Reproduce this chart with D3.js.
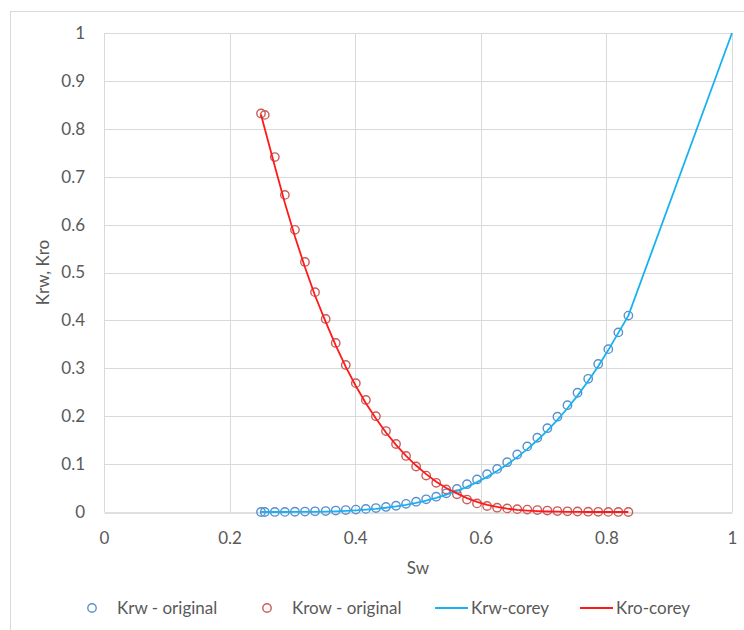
<!DOCTYPE html>
<html>
<head>
<meta charset="utf-8">
<script src="https://cdn.jsdelivr.net/npm/d3@7"></script>
<style>
  body { margin: 0; background: #fff; }
  text { font-family: Lato, "Open Sans", sans-serif; fill: #595959; }
</style>
</head>
<body>
<svg id="chart" width="744" height="630"></svg>
<script>
// water saturation of the measured points
var sw = [0.250, 0.256, 0.272, 0.288, 0.304, 0.320, 0.336, 0.353, 0.369, 0.385,
          0.401, 0.417, 0.433, 0.449, 0.465, 0.481, 0.497, 0.513, 0.529, 0.545,
          0.562, 0.578, 0.594, 0.610, 0.626, 0.642, 0.658, 0.674, 0.690, 0.706,
          0.722, 0.738, 0.754, 0.771, 0.787, 0.803, 0.819, 0.835];
var krwOriginal = [0, 0, 0.0001, 0.0002, 0.0005, 0.0009, 0.0014, 0.002, 0.003, 0.004,
                   0.005, 0.0065, 0.0082, 0.0105, 0.013, 0.017, 0.0215, 0.0265, 0.032, 0.039,
                   0.048, 0.058, 0.068, 0.079, 0.090, 0.104, 0.120, 0.137, 0.155, 0.175,
                   0.199, 0.223, 0.249, 0.278, 0.309, 0.340, 0.375, 0.410];
var krowOriginal = [0.832, 0.829, 0.741, 0.662, 0.589, 0.522, 0.459, 0.403, 0.353, 0.307,
                    0.269, 0.234, 0.200, 0.169, 0.142, 0.117, 0.095, 0.076, 0.061, 0.047,
                    0.037, 0.026, 0.018, 0.0125, 0.009, 0.0075, 0.006, 0.005, 0.004, 0.003,
                    0.002, 0.0015, 0.001, 0.0007, 0.0004, 0.0002, 0.0001, 0];
// corey curves
var swKrwCorey = sw.concat([1.0]);
var krwCorey = [0, 0, 0, 0.00002, 0.00009, 0.0002, 0.00045, 0.00085, 0.0014, 0.0022,
                0.0033, 0.0048, 0.0066, 0.0089, 0.0117, 0.0151, 0.0192, 0.024, 0.0296, 0.0361,
                0.0441, 0.0526, 0.0623, 0.0733, 0.0856, 0.0993, 0.1145, 0.1312, 0.1498, 0.1701,
                0.1923, 0.2166, 0.2429, 0.2734, 0.3045, 0.338, 0.374, 0.410, 1.0];
var kroCorey = [0.830, 0.800, 0.722, 0.645, 0.575, 0.511, 0.452, 0.397, 0.348, 0.303,
                0.263, 0.227, 0.195, 0.166, 0.140, 0.117, 0.097, 0.079, 0.063, 0.050,
                0.039, 0.029, 0.021, 0.015, 0.0105, 0.007, 0.0045, 0.003, 0.0018, 0.001,
                0.0006, 0.0003, 0.0001, 0, 0, 0, 0, 0];

var xTicks = [0, 0.2, 0.4, 0.6, 0.8, 1];
var yTicks = [0, 0.1, 0.2, 0.3, 0.4, 0.5, 0.6, 0.7, 0.8, 0.9, 1];

var blueMarker = '#5B8FD0';
var redMarker = '#CC5B58';
var blueLine = '#19B2EE';
var redLine = '#FF1A1A';
var fontSize = '17px';

var svg = d3.select('#chart');
var plotLeft = 104, plotRight = 732, plotTop = 33, plotBottom = 512;

var x = d3.scaleLinear().domain([0, 1]).range([plotLeft, plotRight]);
var y = d3.scaleLinear().domain([0, 1]).range([plotBottom, plotTop]);

// chart border
svg.append('rect')
    .attr('x', 10.5).attr('y', 11.5)
    .attr('width', 760).attr('height', 640)
    .style('fill', 'none')
    .style('stroke', '#D9D9D9');

// grid
svg.append('g')
    .selectAll('line')
    .data(yTicks.slice(1))
    .enter()
    .append('line')
    .attr('x1', plotLeft).attr('x2', plotRight)
    .attr('y1', function (d) { return Math.round(y(d)) + 0.5; })
    .attr('y2', function (d) { return Math.round(y(d)) + 0.5; })
    .style('stroke', '#D9D9D9');
svg.append('g')
    .selectAll('line')
    .data(xTicks)
    .enter()
    .append('line')
    .attr('x1', function (d) { return Math.round(x(d)) + 0.5; })
    .attr('x2', function (d) { return Math.round(x(d)) + 0.5; })
    .attr('y1', plotTop).attr('y2', plotBottom)
    .style('stroke', '#D9D9D9');

var xAxis = svg.append('g')
    .attr('transform', 'translate(0,' + (plotBottom + 0.5) + ')')
    .call(d3.axisBottom(x).tickValues(xTicks).tickSize(0).tickPadding(19)
        .tickFormat(function (d) { return String(d); }));
xAxis.select('.domain').style('stroke', '#BFBFBF');
xAxis.selectAll('text').style('font-size', fontSize).style('fill', '#595959').style('font-family', 'Lato');

var yAxis = svg.append('g')
    .attr('transform', 'translate(' + plotLeft + ',0)')
    .call(d3.axisLeft(y).tickValues(yTicks).tickSize(0).tickPadding(19)
        .tickFormat(function (d) { return String(d); }));
yAxis.select('.domain').remove();
yAxis.selectAll('text').style('font-size', fontSize).style('fill', '#595959').style('font-family', 'Lato');

// axis titles
svg.append('text')
    .attr('x', (plotLeft + plotRight) / 2).attr('y', 574)
    .attr('text-anchor', 'middle')
    .style('font-size', fontSize)
    .text('Sw');
svg.append('text')
    .attr('transform', 'translate(49,' + ((plotTop + plotBottom) / 2) + ') rotate(-90)')
    .attr('text-anchor', 'middle')
    .style('font-size', fontSize)
    .text('Krw, Kro');

// markers
function drawMarkers(vals, col) {
    svg.append('g')
        .selectAll('circle')
        .data(sw.map(function (s, i) { return [s, vals[i]]; }))
        .enter()
        .append('circle')
        .attr('cx', function (d) { return x(d[0]); })
        .attr('cy', function (d) { return y(d[1]); })
        .attr('r', 4.2)
        .style('fill', 'none')
        .style('stroke', col)
        .style('stroke-width', 1.4);
}
drawMarkers(krwOriginal, blueMarker);
drawMarkers(krowOriginal, redMarker);

var line = d3.line()
    .x(function (d) { return x(d[0]); })
    .y(function (d) { return y(d[1]); });

svg.append('path')
    .datum(swKrwCorey.map(function (s, i) { return [s, krwCorey[i]]; }))
    .attr('d', line)
    .style('fill', 'none')
    .style('stroke', blueLine)
    .style('stroke-width', 1.8);
svg.append('path')
    .datum(sw.map(function (s, i) { return [s, kroCorey[i]]; }))
    .attr('d', line)
    .style('fill', 'none')
    .style('stroke', redLine)
    .style('stroke-width', 1.8);

// legend
var legendY = 608;
var legend = svg.append('g');
[[92, 'Krw - original', blueMarker], [267, 'Krow - original', redMarker]].forEach(function (it) {
    legend.append('circle')
        .attr('cx', it[0]).attr('cy', legendY).attr('r', 4.2)
        .style('fill', 'none').style('stroke', it[2]).style('stroke-width', 1.4);
    legend.append('text')
        .attr('x', it[0] + 25).attr('y', legendY + 6)
        .style('font-size', fontSize)
        .text(it[1]);
});
[[435, 'Krw-corey', blueLine], [580, 'Kro-corey', redLine]].forEach(function (it) {
    legend.append('line')
        .attr('x1', it[0]).attr('x2', it[0] + 33)
        .attr('y1', legendY).attr('y2', legendY)
        .style('stroke', it[2]).style('stroke-width', 1.8);
    legend.append('text')
        .attr('x', it[0] + 36).attr('y', legendY + 6)
        .style('font-size', fontSize)
        .text(it[1]);
});
</script>
</body>
</html>
